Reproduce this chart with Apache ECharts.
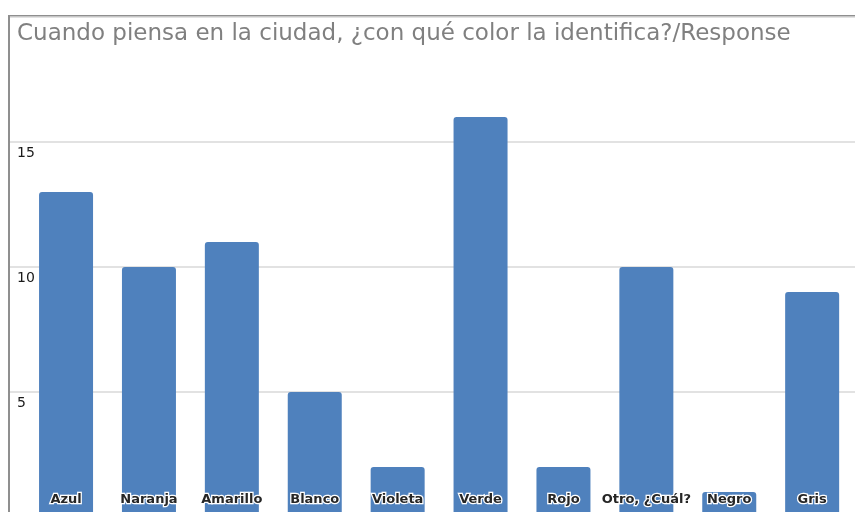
<!DOCTYPE html>
<html>
<head>
<meta charset="utf-8">
<script src="https://cdn.jsdelivr.net/npm/echarts@6/dist/echarts.min.js"></script>
<style>
  html, body { margin: 0; padding: 0; background: #fff; }
  #chart { width: 855px; height: 512px; }
</style>
</head>
<body>
<div id="chart"></div>
<script>
// categorias y respuestas
var categories = ['Azul', 'Naranja', 'Amarillo', 'Blanco', 'Violeta', 'Verde', 'Rojo', 'Otro, ¿Cuál?', 'Negro', 'Gris'];
var responses = [13, 10, 11, 5, 2, 16, 2, 10, 1, 9];
var yMax = 20;
var yStep = 5;

var chart = echarts.init(document.getElementById('chart'));

var option = {
  animation: false,
  title: {
    text: 'Cuando piensa en la ciudad, ¿con qué color la identifica?/Response',
    left: 12,
    top: 18,
    textStyle: {
      fontFamily: 'DejaVu Sans',
      fontSize: 23,
      fontWeight: 'normal',
      color: '#808080'
    }
  },
  graphic: [{
    type: 'rect',
    z: 0,
    shape: { x: 9, y: 16, width: 900, height: 600 },
    style: { fill: 'none', stroke: '#8f8f8f', lineWidth: 2 }
  }],
  grid: [
    { left: 24.6, right: 1.4, top: 17, height: 500, outerBoundsMode: 'none', containLabel: false },
    { left: 10, right: 0, top: 17, height: 500, outerBoundsMode: 'none', containLabel: false }
  ],
  xAxis: [
    {
      gridIndex: 0,
      type: 'category',
      data: categories,
      axisLine: { show: false },
      axisTick: { show: false },
      axisLabel: { show: false }
    },
    {
      gridIndex: 1,
      type: 'value',
      show: false
    }
  ],
  yAxis: [
    {
      gridIndex: 0,
      type: 'value',
      min: 0,
      max: yMax,
      interval: yStep,
      show: false
    },
    {
      gridIndex: 1,
      type: 'value',
      min: 0,
      max: yMax,
      interval: yStep,
      axisLine: { show: false },
      axisTick: { show: false },
      splitLine: { lineStyle: { color: '#d9d9d9', width: 1.5 } },
      axisLabel: {
        inside: true,
        margin: 7,
        showMaxLabel: false,
        showMinLabel: false,
        verticalAlign: 'top',
        padding: [4, 0, 0, 0],
        fontFamily: 'DejaVu Sans',
        fontSize: 14,
        color: '#1a1a1a'
      }
    }
  ],
  series: [{
    type: 'bar',
    xAxisIndex: 0,
    yAxisIndex: 0,
    data: responses,
    barWidth: 54,
    itemStyle: { color: '#4f81bd', borderRadius: [3, 3, 0, 0] },
    label: {
      show: true,
      position: 'insideBottom',
      distance: 11,
      formatter: function (p) { return p.name; },
      fontFamily: 'DejaVu Sans',
      fontWeight: 'bold',
      fontSize: 13,
      color: '#262626',
      textBorderColor: '#ffffff',
      textBorderWidth: 2.5
    }
  }]
};

chart.setOption(option);
</script>
</body>
</html>
